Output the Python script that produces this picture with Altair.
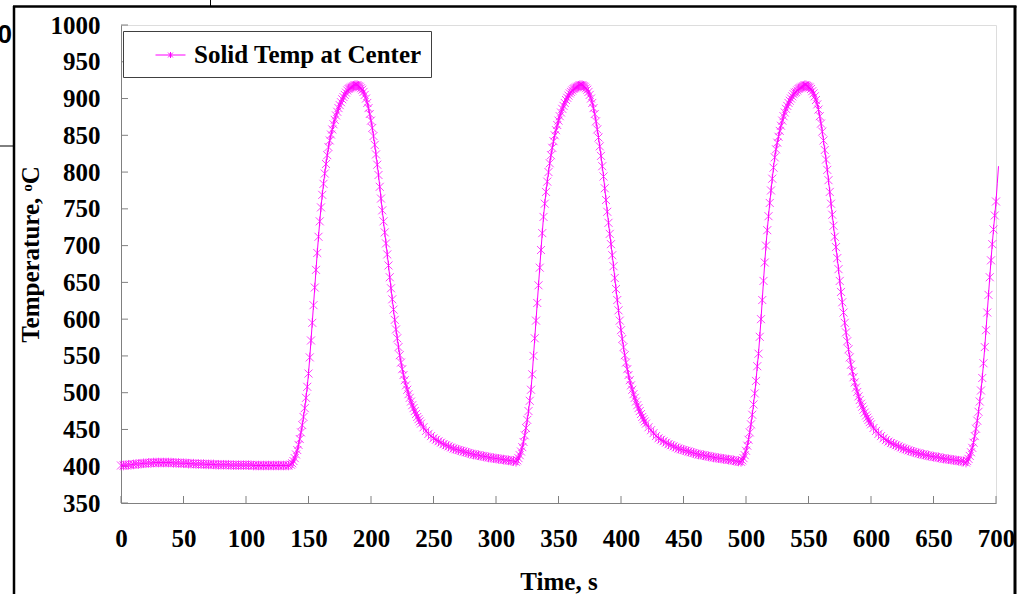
import altair as alt
import pandas as pd

SERIES = "Solid Temp at Center"

# ---- values (°C) ----
# warm-up plateau, t = 0..134 s every 2 s
flat_T = [401, 401, 401.5, 402, 402, 402.5, 403, 403, 403.5, 404,
          404, 404.5, 404.5, 405, 405, 405, 405, 405, 405, 405,
          405, 404.5, 404.5, 404.5, 404, 404, 404, 403.5, 403.5, 403.5,
          403, 403, 403, 403, 402.5, 402.5, 402.5, 402.5, 402, 402,
          402, 402, 402, 402, 401.5, 401.5, 401.5, 401.5, 401.5, 401.5,
          401.5, 401.5, 401.5, 401, 401, 401, 401, 401, 401, 401,
          401, 401, 401, 401, 401, 401, 401, 401]

# cycle 1: starts t=136, 1 s steps for 105 s, then 2 s steps
c1_steep = [402, 404, 407, 411, 416, 422, 429, 437, 446, 456, 467, 479, 493, 508, 526, 548, 571, 595, 619, 643,
            667, 690, 712, 733, 752, 769, 784, 798, 811, 823, 834, 843, 851, 858, 865, 871, 877, 882, 887, 891,
            895, 899, 902, 905, 908, 911, 913, 914, 915, 916, 917, 918, 918, 918, 917, 916, 914, 912, 909, 905,
            900, 894, 887, 879, 870, 860, 849, 837, 824, 810, 796, 780, 764, 748, 733, 718, 703, 688, 673, 657,
            642, 627, 613, 599, 586, 574, 562, 551, 541, 532, 524, 517, 510, 504, 498, 493, 488, 483, 479, 475,
            471, 467, 464, 461, 458]
c1_tail = [453, 448, 444, 441, 438, 436, 434, 432, 430, 428.5, 427, 425.5, 424, 423, 422, 421, 420, 419, 418,
           417, 416, 415.5, 415, 414, 413.5, 413, 412, 411.5, 411, 410.5, 410, 409.5, 409, 408.5, 408, 407.5, 407]

# cycle 2: starts t=316
c2_steep = [406, 408, 411, 415, 420, 426, 433, 442, 452, 463, 475, 489, 504, 525, 550, 574, 598, 622, 646, 670,
            694, 717, 739, 757, 773, 787, 800, 812, 823, 833, 842, 850, 857, 864, 870, 876, 881, 886, 890, 894,
            898, 901, 904, 907, 909, 911, 913, 914, 915, 916, 917, 918, 918, 918, 917, 916, 914, 912, 909, 905,
            900, 894, 887, 879, 869, 858, 847, 835, 822, 808, 794, 778, 762, 746, 731, 716, 702, 687, 672, 656,
            641, 626, 612, 598, 585, 573, 562, 551, 541, 532, 524, 517, 510, 504, 498, 493, 488, 483, 479, 475,
            471, 467, 464, 461, 458]
c2_tail = [453, 449, 445, 441, 438, 436, 434, 432, 430, 428.5, 427, 425.5, 424, 423, 422, 421, 420, 419, 418,
           417, 416, 415.5, 415, 414, 413.5, 413, 412, 411.5, 411, 410.5, 410, 409.5, 409, 408.5, 408, 407, 406.5]

# cycle 3: starts t=496
c3_steep = [406, 408, 411, 415, 421, 428, 436, 446, 457, 470, 484, 499, 516, 536, 553, 576, 600, 626, 652, 677,
            700, 721, 740, 758, 775, 791, 806, 820, 831, 840, 848, 856, 863, 870, 876, 881, 886, 890, 894, 897,
            900, 903, 906, 908, 909, 911, 913, 914, 915, 916, 917, 918, 918, 917, 916, 915, 913, 910, 907, 903,
            898, 892, 885, 876, 866, 855, 843, 830, 817, 803, 789, 773, 757, 742, 727, 712, 698, 683, 668, 652,
            637, 623, 609, 595, 582, 570, 559, 548, 538, 529, 521, 514, 507, 501, 495, 490, 485, 481, 477, 473,
            469, 466, 463, 460, 457]
c3_tail = [452, 448, 444, 441, 438, 435.5, 433.5, 431.5, 430, 428.5, 427, 425.5, 424, 423, 421.5, 420.5, 419.5, 418.5,
           417.5, 416.5, 416, 415, 414.5, 413.5, 413, 412.5, 412, 411, 410.5, 410, 409.5, 409, 408.5, 408, 407.5, 407, 406.5]

# cycle 4: starts t=676 (runs just past the axis end)
c4_steep = [405, 407, 410, 414, 419, 425, 432, 441, 451, 462, 474, 488, 503, 520, 540, 562, 585, 609, 633, 657,
            680, 702, 722, 741, 760, 784, 808]

x_ticks = [0, 50, 100, 150, 200, 250, 300, 350, 400, 450, 500, 550, 600, 650, 700]
y_ticks = [350, 400, 450, 500, 550, 600, 650, 700, 750, 800, 850, 900, 950, 1000]

# ---- table ----
rows = []
for i, v in enumerate(flat_T):
    rows.append((2 * i, v))
for start, steep, tail in [(136, c1_steep, c1_tail), (316, c2_steep, c2_tail),
                           (496, c3_steep, c3_tail), (676, c4_steep, [])]:
    for i, v in enumerate(steep):
        rows.append((start + i, v))
    for i, v in enumerate(tail):
        rows.append((start + 106 + 2 * i, v))
df = pd.DataFrame(rows, columns=["t", "T"])
df["series"] = SERIES

W, H = 875, 478
MAG = "#FF00FF"
SERIF = "Liberation Serif"
STAR = "M-1,-1L1,1M-1,1L1,-1M0,-1.2L0,1.2"
LEG = "M-1,0L1,0M-0.16,-0.16L0.16,0.16M-0.16,0.16L0.16,-0.16M0,-0.2L0,0.2"

xs = alt.Scale(domain=[0, 700], nice=False, zero=False)
ys = alt.Scale(domain=[350, 1000], nice=False, zero=False)

x_axis = alt.Axis(values=x_ticks, format="d", title="Time, s", ticks=False, grid=False,
                  domainColor="#808080", labelFont=SERIF, labelFontWeight="bold",
                  labelFontSize=25, labelColor="black", labelPadding=23,
                  labelFlush=False, labelOverlap=False,
                  titleFont=SERIF, titleFontWeight="bold", titleFontSize=25,
                  titleColor="black", titleY=78, titleBaseline="middle")
y_axis = alt.Axis(values=y_ticks, format="d", title="Temperature, ᵒC", ticks=False, grid=False,
                  domainColor="#808080", labelFont=SERIF, labelFontWeight="bold",
                  labelFontSize=25, labelColor="black", labelPadding=21,
                  labelFlush=False, labelOverlap=False,
                  titleFont=SERIF, titleFontWeight="bold", titleFontSize=25,
                  titleColor="black", titleX=-91, titleY=229, titleAngle=270,
                  titleBaseline="middle", titleAlign="center")

X = alt.X("t:Q", scale=xs, axis=x_axis)
Y = alt.Y("T:Q", scale=ys, axis=y_axis)

line = alt.Chart(df).mark_line(color=MAG, strokeWidth=1).encode(x=X, y=Y)

points = alt.Chart(df).transform_filter("datum.t <= 700").mark_point(
    shape=STAR, size=64, filled=False, strokeWidth=1, opacity=0.75
).encode(
    x=X, y=Y,
    color=alt.Color("series:N", scale=alt.Scale(range=[MAG]),
                    legend=alt.Legend(title=None, orient="none", legendX=2, legendY=6,
                                      fillColor="white", strokeColor="#404040",
                                      padding=8.5, symbolType=LEG, symbolSize=900,
                                      symbolStrokeWidth=1, symbolOpacity=1,
                                      symbolFillColor="transparent",
                                      symbolOffset=23.5, labelOffset=8,
                                      labelFont=SERIF, labelFontSize=25,
                                      labelFontWeight="bold", labelColor="black",
                                      labelLimit=400)),
)

xt = alt.Chart(pd.DataFrame({"t": x_ticks})).mark_rule(color="#808080").encode(
    x=X, y=alt.value(H), y2=alt.value(H - 7))
yt = alt.Chart(pd.DataFrame({"T": y_ticks})).mark_rule(color="#808080").encode(
    y=Y, x=alt.value(0), x2=alt.value(7))

one = pd.DataFrame({"k": [0]})
frame_left = alt.Chart(one).mark_rule(color="black", strokeWidth=2.5).encode(
    x=alt.value(-107), y=alt.value(-19), y2=alt.value(H + 100))
frame_right = alt.Chart(one).mark_rule(color="black", strokeWidth=3).encode(
    x=alt.value(894), y=alt.value(-19), y2=alt.value(H + 100))
frame_top = alt.Chart(one).mark_rule(color="black", strokeWidth=2.5).encode(
    x=alt.value(-108), x2=alt.value(895.5), y=alt.value(-18.5))
frame_tl = alt.Chart(one).mark_rule(color="black", strokeWidth=1).encode(
    x=alt.value(89.5), y=alt.value(-25), y2=alt.value(-19))
frame_side = alt.Chart(one).mark_rule(color="black", strokeWidth=1).encode(
    x=alt.value(-121), x2=alt.value(-108), y=alt.value(121))
stray = alt.Chart(pd.DataFrame({"s": ["0"]})).mark_text(
    font="Liberation Sans", fontWeight="bold", fontSize=26, align="right",
    baseline="middle", color="black").encode(
    x=alt.value(-109), y=alt.value(10), text="s:N")

chart = alt.layer(
    xt, yt, line, points,
    frame_left, frame_right, frame_top, frame_tl, frame_side, stray,
).properties(
    width=W, height=H,
    autosize=alt.AutoSizeParams(type="none"),
    padding={"left": 121, "top": 25, "right": 22, "bottom": 91},
).configure_view(
    stroke="#A0A0A0", strokeWidth=1
).configure(background="white")

chart.save("out.html", embed_options={"renderer": "svg", "actions": False})
